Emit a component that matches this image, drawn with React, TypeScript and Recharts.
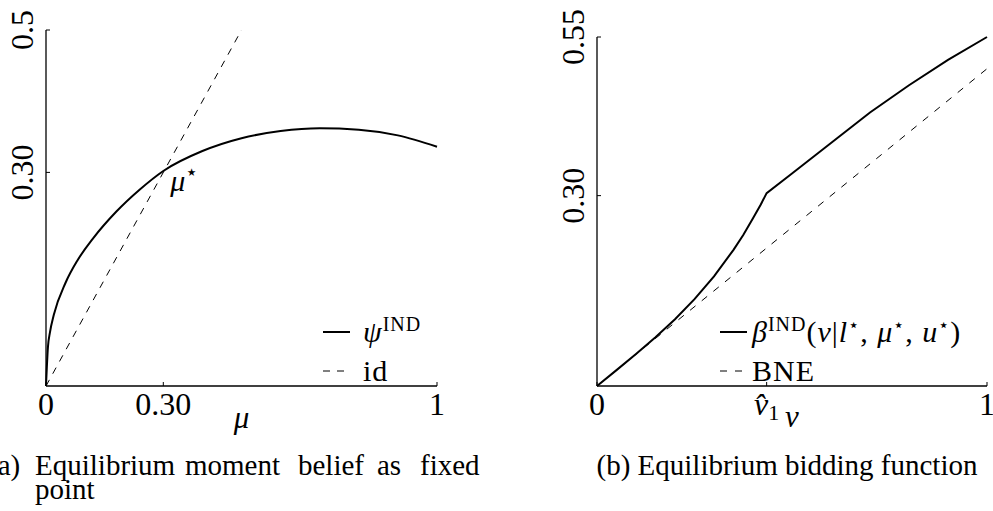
import React from "react";
import { LineChart, Line, XAxis, YAxis, Legend, ReferenceDot, Label } from "recharts";

const FONT = "'Liberation Serif', 'Times New Roman', serif";

// (a) equilibrium moment belief
const muGrid = [0, 0.005, 0.01, 0.02, 0.05, 0.08, 0.12, 0.18, 0.24, 0.3, 0.4, 0.5, 0.6, 0.7, 0.8, 0.9, 1];
const psiValues = [0, 0.055, 0.075, 0.1, 0.145, 0.176, 0.207, 0.245, 0.276, 0.302, 0.33, 0.348, 0.358, 0.362, 0.36, 0.352, 0.336];
const idGrid = [0, 0.5];
const idValues = [0, 0.5];
const muTicks = [0, 0.3, 1];
const muTickLabels = ["0", "0.30", "1"];
const psiTicks = [0.3, 0.5];
const psiTickLabels = ["0.30", "0.5"];
const muStar = 0.3;

// (b) equilibrium bidding function
const vGrid = [0, 0.05, 0.1, 0.15, 0.2, 0.25, 0.3, 0.35, 0.375, 0.4, 0.42, 0.435, 0.5, 0.6, 0.7, 0.8, 0.9, 1];
const betaValues = [0, 0.025, 0.0504, 0.0769, 0.1053, 0.1368, 0.1727, 0.2146, 0.238, 0.2642, 0.286, 0.304, 0.335, 0.383, 0.431, 0.474, 0.514, 0.55];
const bneGrid = [0, 1];
const bneValues = [0, 0.5];
const vHat = 0.435;
const vTicks = [0, vHat, 1];
const bidTicks = [0.3, 0.55];
const bidTickLabels = ["0.30", "0.55"];

const psiData = muGrid.map((x, i) => ({ x, y: psiValues[i] }));
const idData = idGrid.map((x, i) => ({ x, y: idValues[i] }));
const betaData = vGrid.map((x, i) => ({ x, y: betaValues[i] }));
const bneData = bneGrid.map((x, i) => ({ x, y: bneValues[i] }));

const star = "\u22C6";
const legendOrder = ["psi", "id", "beta", "bne"];

const legendA: Record<string, React.ReactNode> = {
  psi: (
    <>
      <span style={{ fontStyle: "italic" }}>ψ</span>
      <sup style={{ fontSize: 20, lineHeight: 0 }}>IND</sup>
    </>
  ),
  id: <>id</>,
};

const legendB: Record<string, React.ReactNode> = {
  beta: (
    <>
      <span style={{ fontStyle: "italic" }}>β</span>
      <sup style={{ fontSize: 20, lineHeight: 0 }}>IND</sup>(<i>v</i>|<i>l</i>
      <sup style={{ fontSize: 18, lineHeight: 0 }}>{star}</sup>, <i>μ</i>
      <sup style={{ fontSize: 18, lineHeight: 0 }}>{star}</sup>, <i>u</i>
      <sup style={{ fontSize: 18, lineHeight: 0 }}>{star}</sup>)
    </>
  ),
  bne: <>BNE</>,
};

function makeLegend(labels: Record<string, React.ReactNode>, gap: number) {
  return (props: any) => {
    const items = [...(props.payload || [])].sort(
      (a: any, b: any) => legendOrder.indexOf(a.value) - legendOrder.indexOf(b.value)
    );
    return (
      <div style={{ fontFamily: FONT, color: "#000" }}>
        {items.map((entry: any) => (
          <div key={entry.value} style={{ display: "flex", alignItems: "center", height: 39 }}>
            <svg width={27} height={4} style={{ overflow: "visible" }}>
              <line
                x1={0}
                x2={27}
                y1={2}
                y2={2}
                stroke="#000"
                strokeWidth={entry.payload?.strokeWidth ?? 1}
                strokeDasharray={entry.payload?.strokeDasharray}
              />
            </svg>
            <span
              style={{
                marginLeft: gap,
                fontSize: 30,
                letterSpacing: 1,
                lineHeight: "39px",
                whiteSpace: "nowrap",
              }}
            >
              {labels[entry.value]}
            </span>
          </div>
        ))}
      </div>
    );
  };
}

function xTick(ticks: number[], render: (i: number) => React.ReactNode) {
  return (props: any) => {
    const { x, y, payload } = props;
    const i = ticks.indexOf(payload.value);
    return (
      <g>
        <line x1={x} x2={x} y1={y} y2={y - 4} stroke="#000" strokeWidth={1} />
        <text x={x} y={y + 29} textAnchor="middle" fontSize={32} fontFamily={FONT} fill="#000">
          {render(i)}
        </text>
      </g>
    );
  };
}

function yTick(labels: string[], ticks: number[]) {
  return (props: any) => {
    const { x, y, payload } = props;
    const i = ticks.indexOf(payload.value);
    return (
      <g>
        <line x1={x} x2={x + 4} y1={y} y2={y} stroke="#000" strokeWidth={1} />
        <text
          x={x - 13}
          y={y}
          transform={`rotate(-90 ${x - 13} ${y})`}
          textAnchor="middle"
          fontSize={32}
          fontFamily={FONT}
          fill="#000"
        >
          {labels[i]}
        </text>
      </g>
    );
  };
}

function axisLabel(text: string, dy: number) {
  return (props: any) => {
    const vb = props.viewBox;
    return (
      <text
        x={vb.x + vb.width / 2}
        y={vb.y + dy}
        textAnchor="middle"
        fontSize={31}
        fontStyle="italic"
        fontFamily={FONT}
        fill="#000"
      >
        {text}
      </text>
    );
  };
}

const axisLine = { stroke: "#000", strokeWidth: 1.3 };

// caption (a) is justified over two lines
const captionA = [
  { w: "(a)", x: -12, y: 475 },
  { w: "Equilibrium", x: 35, y: 475 },
  { w: "moment", x: 185, y: 475 },
  { w: "belief", x: 298, y: 475 },
  { w: "as", x: 377, y: 475 },
  { w: "fixed", x: 420, y: 475 },
  { w: "point", x: 35, y: 499 },
];

export default function App() {
  return (
    <div
      style={{
        position: "absolute",
        left: 0,
        top: 0,
        width: 993,
        height: 511,
        background: "#fff",
        overflow: "hidden",
        fontFamily: FONT,
      }}
    >
      <div style={{ position: "absolute", left: 0, top: 0 }}>
        <LineChart width={470} height={440} margin={{ top: 30, right: 33, bottom: 24, left: 6 }}>
          <XAxis
            dataKey="x"
            type="number"
            domain={[0, 1]}
            ticks={muTicks}
            interval={0}
            height={30}
            tickSize={0}
            tickMargin={0}
            tickLine={false}
            axisLine={axisLine}
            tick={xTick(muTicks, (i) => muTickLabels[i])}
          >
            <Label content={axisLabel("μ", 42)} />
          </XAxis>
          <YAxis
            type="number"
            domain={[0, 0.5]}
            ticks={psiTicks}
            interval={0}
            width={40}
            tickSize={0}
            tickMargin={0}
            tickLine={false}
            axisLine={axisLine}
            tick={yTick(psiTickLabels, psiTicks)}
          />
          <Line
            data={psiData}
            dataKey="y"
            name="psi"
            type="monotone"
            stroke="#000"
            strokeWidth={2}
            dot={false}
            isAnimationActive={false}
          />
          <Line
            data={idData}
            dataKey="y"
            name="id"
            type="linear"
            stroke="#000"
            strokeWidth={1}
            strokeDasharray="7 7"
            dot={false}
            isAnimationActive={false}
          />
          <ReferenceDot
            x={muStar}
            y={muStar}
            r={0}
            shape={(p: any) => (
              <text x={p.cx + 7} y={p.cy + 19} fontSize={30} fontFamily={FONT} fill="#000">
                <tspan fontStyle="italic">μ</tspan>
                <tspan fontSize={21} dy={-12}>
                  {star}
                </tspan>
              </text>
            )}
          />
          <Legend
            layout="vertical"
            align="center"
            verticalAlign="middle"
            wrapperStyle={{ left: 323, top: 312, width: "auto" }}
            content={makeLegend(legendA, 13)}
          />
        </LineChart>
      </div>

      <div style={{ position: "absolute", left: 520, top: 0 }}>
        <LineChart width={473} height={440} margin={{ top: 37, right: 6, bottom: 24, left: 37 }}>
          <XAxis
            dataKey="x"
            type="number"
            domain={[0, 1]}
            ticks={vTicks}
            interval={0}
            height={30}
            tickSize={0}
            tickMargin={0}
            tickLine={false}
            axisLine={axisLine}
            tick={xTick(vTicks, (i) =>
              i === 1 ? (
                <>
                  <tspan fontStyle="italic">v̂</tspan>
                  <tspan fontSize={22} dy={5}>
                    1
                  </tspan>
                </>
              ) : (
                String(vTicks[i])
              )
            )}
          >
            <Label content={axisLabel("v", 41)} />
          </XAxis>
          <YAxis
            type="number"
            domain={[0, 0.55]}
            ticks={bidTicks}
            interval={0}
            width={40}
            tickSize={0}
            tickMargin={0}
            tickLine={false}
            axisLine={axisLine}
            tick={yTick(bidTickLabels, bidTicks)}
          />
          <Line
            data={betaData}
            dataKey="y"
            name="beta"
            type="linear"
            stroke="#000"
            strokeWidth={2}
            dot={false}
            isAnimationActive={false}
          />
          <Line
            data={bneData}
            dataKey="y"
            name="bne"
            type="linear"
            stroke="#000"
            strokeWidth={1}
            strokeDasharray="7 8"
            dot={false}
            isAnimationActive={false}
          />
          <Legend
            layout="vertical"
            align="center"
            verticalAlign="middle"
            wrapperStyle={{ left: 200, top: 312, width: "auto" }}
            content={makeLegend(legendB, 5)}
          />
        </LineChart>
      </div>

      <svg
        width={993}
        height={511}
        style={{ position: "absolute", left: 0, top: 0, pointerEvents: "none" }}
        fontFamily={FONT}
        fontSize={29}
        fill="#000"
      >
        {captionA.map((c) => (
          <text key={c.w} x={c.x} y={c.y}>
            {c.w}
          </text>
        ))}
        <text x={787} y={475} textAnchor="middle">
          (b) Equilibrium bidding function
        </text>
      </svg>
    </div>
  );
}
